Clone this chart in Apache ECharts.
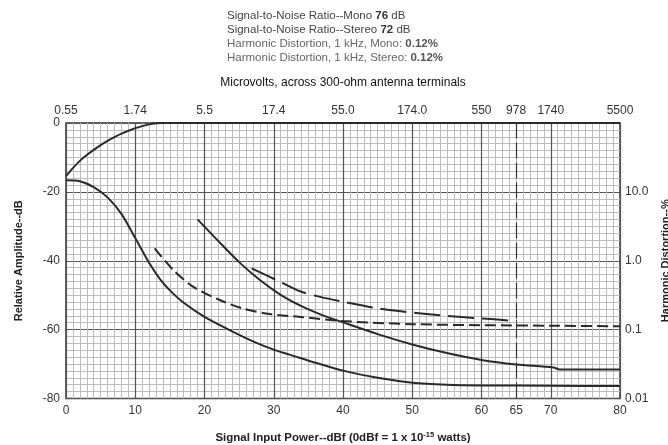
<!DOCTYPE html>
<html>
<head>
<meta charset="utf-8">
<script src="https://cdn.jsdelivr.net/npm/echarts@6/dist/echarts.min.js"></script>
<style>
html,body{margin:0;padding:0;background:#fff;}
#chart{width:668px;height:445px;}
</style>
</head>
<body>
<div id="chart"></div>
<script>
// ---- Data ----
const tickValues = [0, 10, 20, 30, 40, 50, 60, 65, 70, 80];           // dBf
const microvoltLabels = ['0.55', '1.74', '5.5', '17.4', '55.0', '174.0', '550', '978', '1740', '5500'];
const distortionLabels = {'100': '', '10': '10.0', '1': '1.0', '0.1': '0.1', '0.01': '0.01'};
const markerDbf = 65;

// Relative amplitude curves (dB)
const signalX = [0, 1, 2, 3, 4, 5, 6, 7, 8, 9, 10, 11, 12, 13, 14, 80];
const signalY = [-15.4, -13.1, -11, -9.3, -7.8, -6.4, -5.2, -4.1, -3.1, -2.3, -1.5, -0.9, -0.4, -0.1, 0, 0];

const monoNoiseX = [0, 2, 4, 6, 8, 10, 12, 13.6, 15, 17, 20, 23.7, 27, 30, 33.3, 36.2, 40, 45, 50, 55, 60, 70, 80];
const monoNoiseY = [-16.6, -16.9, -18.6, -21.6, -26.4, -33.4, -40.6, -45.4, -48.6, -52.2, -56.3, -60.2, -63.4, -65.8, -67.9, -69.7, -71.9, -74, -75.4, -76, -76.2, -76.3, -76.4];

const stereoNoiseX = [19, 22, 25, 28, 31, 34, 37, 40, 45, 50, 55, 60, 65, 70.4, 71.3, 80];
const stereoNoiseY = [-28, -34.3, -40.4, -45.6, -49.9, -53.2, -55.8, -57.9, -61.3, -64.3, -66.8, -68.8, -70.1, -71, -71.6, -71.6];

// Harmonic distortion curves (%)
const monoThdX = [12.8, 15.5, 18.4, 22.2, 25.6, 29.4, 33.8, 40, 50.1, 60.2, 70, 80];
const monoThdY = [1.51, 0.733, 0.417, 0.269, 0.202, 0.168, 0.153, 0.133, 0.120, 0.116, 0.114, 0.112];

const stereoThdX = [26.8, 30.9, 33.8, 36.7, 40, 45, 50.1, 55, 60.2, 65.1];
const stereoThdY = [0.776, 0.495, 0.36, 0.299, 0.254, 0.204, 0.176, 0.158, 0.145, 0.133];

const pairs = (xs, ys) => xs.map((x, i) => [x, ys[i]]);

// ---- Chart ----
const FONT = 'Liberation Sans';
const INK = '#2a2a2a';
const chart = echarts.init(document.getElementById('chart'), null, {renderer: 'canvas'});

const lineBase = {
  type: 'line', symbol: 'none', smooth: 0.3, silent: true,
  lineStyle: {color: INK, width: 2}
};

chart.setOption({
  animation: false,
  backgroundColor: '#fff',
  textStyle: {fontFamily: FONT},
  graphic: [
    {
      type: 'text', left: 227, top: 9,
      style: {
        text: 'Signal-to-Noise Ratio--Mono {b|76} dB\nSignal-to-Noise Ratio--Stereo {b|72} dB\n{l|Harmonic Distortion, 1 kHz, Mono: }{lb|0.12%}\n{l|Harmonic Distortion, 1 kHz, Stereo: }{lb|0.12%}',
        font: '11.5px "Liberation Sans"', fill: '#444', lineHeight: 14,
        rich: {
          b: {fontWeight: 'bold', fill: '#333', fontSize: 11.5, fontFamily: FONT},
          l: {fill: '#666', fontSize: 11.5, fontFamily: FONT},
          lb: {fill: '#555', fontWeight: 'bold', fontSize: 11.5, fontFamily: FONT}
        }
      }
    }
  ],
  grid: {
    left: 66, right: 48, top: 123, bottom: 46.5,
    outerBoundsMode: 'none', containLabel: false,
    show: true, borderColor: '#333', borderWidth: 1.5, backgroundColor: 'transparent'
  },
  xAxis: [
    {
      type: 'value', position: 'bottom', min: 0, max: 80, interval: 10,
      axisLine: {show: false}, axisTick: {show: false},
      axisLabel: {customValues: tickValues, color: '#333', fontSize: 12, margin: 6, fontFamily: FONT},
      splitLine: {show: true, lineStyle: {color: '#555', width: 1.2}},
      minorTick: {show: false, splitNumber: 10},
      minorSplitLine: {show: true, lineStyle: {color: '#bcbcbc', width: 1}},
      name: 'Signal Input Power--dBf (0dBf = 1 x 10{sup|-15} watts)',
      nameLocation: 'middle', nameGap: 32,
      nameTextStyle: {
        fontSize: 11.5, color: '#222', fontWeight: 'bold', fontFamily: FONT,
        rich: {sup: {fontSize: 7.5, fontWeight: 'bold', color: '#222', fontFamily: FONT, padding: [0, 0, 6, 0]}}
      }
    },
    {
      type: 'value', position: 'top', min: 0, max: 80, interval: 10,
      axisLine: {show: false}, axisTick: {show: false}, splitLine: {show: false},
      axisLabel: {
        customValues: tickValues, color: '#333', fontSize: 12, margin: 6, fontFamily: FONT,
        formatter: v => microvoltLabels[tickValues.indexOf(v)] || ''
      },
      name: 'Microvolts, across 300-ohm antenna terminals',
      nameLocation: 'middle', nameGap: 34,
      nameTextStyle: {fontSize: 12, color: '#111', fontFamily: FONT}
    }
  ],
  yAxis: [
    {
      type: 'value', position: 'left', min: -80, max: 0, interval: 20,
      axisLine: {show: false}, axisTick: {show: false},
      axisLabel: {color: '#333', fontSize: 12, margin: 6, fontFamily: FONT},
      splitLine: {show: true, lineStyle: {color: '#555', width: 1.2}},
      minorTick: {show: false, splitNumber: 10},
      minorSplitLine: {show: true, lineStyle: {color: '#bcbcbc', width: 1}},
      name: 'Relative Amplitude--dB', nameLocation: 'middle', nameGap: 42, nameRotate: 90,
      nameTextStyle: {fontSize: 11, color: '#222', fontWeight: 'bold', fontFamily: FONT}
    },
    {
      type: 'log', logBase: 10, position: 'right', min: 0.01, max: 100,
      axisLine: {show: false}, axisTick: {show: false}, splitLine: {show: false},
      axisLabel: {
        color: '#333', fontSize: 12, margin: 5, fontFamily: FONT,
        formatter: v => {
          const key = String(Number(v.toPrecision(3)));
          return distortionLabels[key] !== undefined ? distortionLabels[key] : '';
        }
      },
      name: 'Harmonic Distortion--%', nameLocation: 'middle', nameGap: 40, nameRotate: 90,
      nameTextStyle: {fontSize: 11, color: '#222', fontWeight: 'bold', fontFamily: FONT}
    }
  ],
  series: [
    Object.assign({}, lineBase, {
      name: 'Signal', xAxisIndex: 0, yAxisIndex: 0, data: pairs(signalX, signalY),
      markLine: {
        silent: true, symbol: 'none', label: {show: false},
        lineStyle: {type: [16, 4], color: '#333', width: 1.2},
        data: [{xAxis: markerDbf}]
      }
    }),
    Object.assign({}, lineBase, {name: 'Mono noise', xAxisIndex: 0, yAxisIndex: 0, data: pairs(monoNoiseX, monoNoiseY)}),
    Object.assign({}, lineBase, {name: 'Stereo noise', xAxisIndex: 0, yAxisIndex: 0, data: pairs(stereoNoiseX, stereoNoiseY)}),
    Object.assign({}, lineBase, {name: 'Mono THD', xAxisIndex: 0, yAxisIndex: 1, data: pairs(monoThdX, monoThdY),
      lineStyle: {color: INK, width: 2, type: [11, 5]}}),
    Object.assign({}, lineBase, {name: 'Stereo THD', xAxisIndex: 0, yAxisIndex: 1, data: pairs(stereoThdX, stereoThdY),
      lineStyle: {color: INK, width: 2, type: [26, 8]}})
  ]
});
</script>
</body>
</html>
